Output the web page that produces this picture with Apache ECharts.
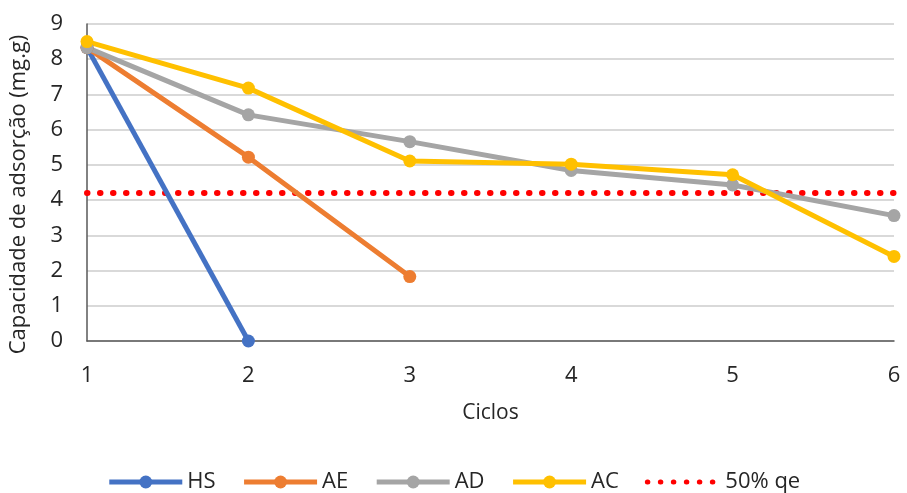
<!DOCTYPE html>
<html><head><meta charset="utf-8">
<script src="https://cdn.jsdelivr.net/npm/echarts@6/dist/echarts.min.js"></script>
<style>html,body{margin:0;padding:0;background:#fff}#c{width:907px;height:493px}</style>
</head><body><div id="c"></div>
<script>
const cycles = ['1','2','3','4','5','6'];
const HS = [8.33, 0];
const AE = [8.33, 5.22, 1.83];
const AD = [8.33, 6.42, 5.66, 4.84, 4.43, 3.56];
const AC = [8.50, 7.18, 5.11, 5.02, 4.72, 2.40];
const half = [4.2, 4.2, 4.2, 4.2, 4.2, 4.2];
const font = 'Open Sans';
function s(name, data, color){
  return {name, type:'line', data, symbol:'circle', symbolSize:13,
    itemStyle:{color}, lineStyle:{color, width:5}, z:3};
}
const chart = echarts.init(document.getElementById('c'));
chart.setOption({
  animation:false,
  textStyle:{fontFamily:font},
  grid:{left:84, right:13, top:24, bottom:152},
  legend:{top:466, left:'center', itemGap:26, itemWidth:73, itemHeight:16,
    lineStyle:{width:5},
    textStyle:{fontSize:22, color:'#262626', fontFamily:font},
    data:['HS','AE','AD','AC',{name:'50% qe', itemStyle:{opacity:0}}]},
  xAxis:{type:'category', data:cycles, boundaryGap:false,
    name:'Ciclos', nameLocation:'middle', nameGap:62,
    nameTextStyle:{fontSize:21, color:'#262626'},
    axisLine:{lineStyle:{color:'#595959', width:1.5}},
    axisTick:{show:false},
    axisLabel:{fontSize:22, color:'#262626', margin:24},
    splitLine:{show:false}},
  yAxis:{type:'value', min:0, max:9, interval:1,
    name:'Capacidade de adsorção (mg.g)', nameLocation:'middle', nameGap:57,
    nameTextStyle:{fontSize:22, color:'#262626', padding:[0,24,0,0]},
    axisLine:{show:true, lineStyle:{color:'#595959', width:1.5}},
    axisTick:{show:false},
    axisLabel:{fontSize:22, color:'#262626', margin:24},
    splitLine:{lineStyle:{color:'#d9d9d9', width:2}}},
  series:[
    s('HS', HS, '#4472C4'),
    s('AE', AE, '#ED7D31'),
    s('AD', AD, '#A5A5A5'),
    s('AC', AC, '#FFC000'),
    {name:'50% qe', type:'line', data:half, symbol:'none', z:2,
      itemStyle:{color:'#FF0000'},
      lineStyle:{color:'#FF0000', width:6, type:[0.5,12.5], cap:'round'}}
  ]
});
</script></body></html>
